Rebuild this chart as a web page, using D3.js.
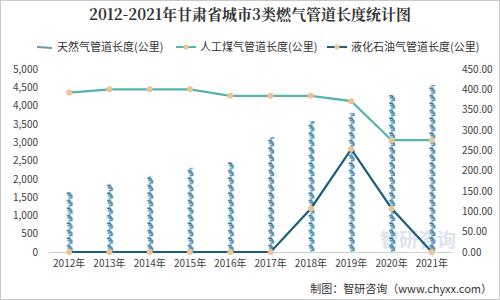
<!DOCTYPE html>
<html>
<head>
<meta charset="utf-8">
<script src="https://cdn.jsdelivr.net/npm/d3@7"></script>
<style>
  body { margin: 0; background: #fff; }
  svg { display: block; font-family: "Noto Sans CJK SC", "Noto Sans", sans-serif; }
</style>
</head>
<body>
<svg id="chart" width="500" height="300"></svg>
<script>
// data
var years = ["2012年","2013年","2014年","2015年","2016年","2017年","2018年","2019年","2020年","2021年"];
var naturalGas = [1640, 1860, 2080, 2300, 2460, 3140, 3580, 3800, 4290, 4560];
var artificialGas = [392, 400, 400, 400, 384, 384, 384, 371, 275, 275];
var lpg = [0, 0, 0, 0, 0, 0, 107, 253, 107, 0];
var leftTicks = [0, 500, 1000, 1500, 2000, 2500, 3000, 3500, 4000, 4500, 5000];
var rightTicks = [0, 50, 100, 150, 200, 250, 300, 350, 400, 450];
var seriesNames = ["天然气管道长度(公里)", "人工煤气管道长度(公里)", "液化石油气管道长度(公里)"];

var svg = d3.select("#chart");
var margin = {top: 69, right: 48, bottom: 48, left: 49};
var width = 500 - margin.left - margin.right;
var height = 300 - margin.top - margin.bottom;

var barColor = "#4a8db0", lineColor1 = "#55b4ad", lineColor2 = "#1d5f78", markColor = "#ecc394";

// outer frame
svg.append("rect").attr("x", 0.5).attr("y", 0.5).attr("width", 499).attr("height", 299)
    .attr("fill", "none").attr("stroke", "#c8c8c8");

// title
svg.append("text").attr("x", 250).attr("y", 20).attr("text-anchor", "middle")
    .style("font-family", "'Noto Serif CJK SC', 'DejaVu Serif', serif")
    .style("font-size", "15px").style("font-weight", "bold").attr("fill", "#333")
    .text("2012-2021年甘肃省城市3类燃气管道长度统计图");

var x = d3.scaleBand().domain(years).range([0, width]).padding(0);
var yL = d3.scaleLinear().domain([0, 5000]).range([height, 0]);
var yR = d3.scaleLinear().domain([0, 450]).range([height, 0]);

// watermark (behind marks)
svg.append("text").attr("x", 418).attr("y", 247).attr("text-anchor", "middle")
    .style("font-size", "19px").style("font-weight", "bold").attr("fill", "#dde3ec")
    .text("智研咨询");

var g = svg.append("g").attr("transform", "translate(" + margin.left + "," + margin.top + ")");

// pictorial bar pattern (stacked little hooks), in g's local coords
var bw = 8;
var defs = svg.append("defs");
var pat = defs.append("pattern").attr("id", "glyph")
    .attr("patternUnits", "userSpaceOnUse").attr("width", x.bandwidth()).attr("height", 7.5)
    .attr("x", x.bandwidth() / 2 - bw / 2 + 0.5)
    .attr("y", height);
pat.append("path").attr("d", "M1.3,1.3 L4.3,1.3 L5.3,3.3 M2.0,3.4 L6.2,3.9 L6.2,5.7 L3.0,6.5")
    .attr("fill", "none").attr("stroke", barColor).attr("stroke-width", 1.7);
pat.append("path").attr("d", "M1.3,1.3 L4.3,1.3")
    .attr("fill", "none").attr("stroke", "#2d6b8d").attr("stroke-width", 1.3);

g.selectAll(".bar").data(naturalGas).enter().append("rect")
    .attr("class", "bar")
    .attr("x", function(d, i){ return x(years[i]) + x.bandwidth() / 2 - bw / 2 + 0.5; })
    .attr("y", function(d){ return yL(d); })
    .attr("width", bw)
    .attr("height", function(d){ return height - yL(d); })
    .attr("fill", "url(#glyph)");

// baseline
g.append("line").attr("x1", 0).attr("x2", width).attr("y1", height + 0.5).attr("y2", height + 0.5)
    .attr("stroke", "#d0d0d0");

// axes
var axL = g.append("g").call(d3.axisLeft(yL).tickValues(leftTicks).tickSize(0).tickPadding(11).tickFormat(d3.format(",")));
var axR = g.append("g").attr("transform", "translate(" + width + ",0)")
    .call(d3.axisRight(yR).tickValues(rightTicks).tickSize(0).tickPadding(10).tickFormat(d3.format(".2f")));
var axX = g.append("g").attr("transform", "translate(0," + height + ")")
    .call(d3.axisBottom(x).tickSize(0).tickPadding(8));
[axL, axR, axX].forEach(function(a){
  a.select(".domain").remove();
  a.selectAll("text").style("font-size", "10px").attr("fill", "#404040")
    .style("font-family", "'Noto Sans CJK SC', sans-serif");
});

function cx(i){ return x(years[i]) + x.bandwidth() / 2; }

var line = d3.line().x(function(d, i){ return cx(i); }).y(function(d){ return yR(d); });

g.append("path").datum(artificialGas).attr("d", line)
    .attr("fill", "none").attr("stroke", lineColor1).attr("stroke-width", 2.2);
g.append("path").datum(lpg).attr("d", line)
    .attr("fill", "none").attr("stroke", lineColor2).attr("stroke-width", 2.2);

[artificialGas, lpg].forEach(function(s){
  g.selectAll(null).data(s).enter().append("circle")
    .attr("cx", function(d, i){ return cx(i); })
    .attr("cy", function(d){ return yR(d); })
    .attr("r", 3).attr("fill", markColor);
});

// legend
var leg = svg.append("g").attr("transform", "translate(0,47)");
var legX = [37, 176, 327];
seriesNames.forEach(function(name, i){
  var it = leg.append("g").attr("transform", "translate(" + legX[i] + ",0)");
  if (i === 0) {
    it.append("line").attr("x1", 0).attr("x2", 15).attr("y1", 0).attr("y2", 1)
      .attr("stroke", "#6a98ad").attr("stroke-width", 2);
  } else {
    it.append("line").attr("x1", 0).attr("x2", 20).attr("y1", 0).attr("y2", 0)
      .attr("stroke", i === 1 ? lineColor1 : lineColor2).attr("stroke-width", 2);
    it.append("circle").attr("cx", 10).attr("cy", 0).attr("r", 2.6).attr("fill", markColor);
  }
  it.append("text").attr("x", i === 0 ? 20 : 24).attr("y", 4)
    .style("font-size", "11px").attr("fill", "#333").text(name);
});

// source
svg.append("text").attr("x", 492).attr("y", 293).attr("text-anchor", "end")
    .style("font-size", "11px").attr("fill", "#333")
    .text("制图：智研咨询（www.chyxx.com）");
</script>
</body>
</html>
